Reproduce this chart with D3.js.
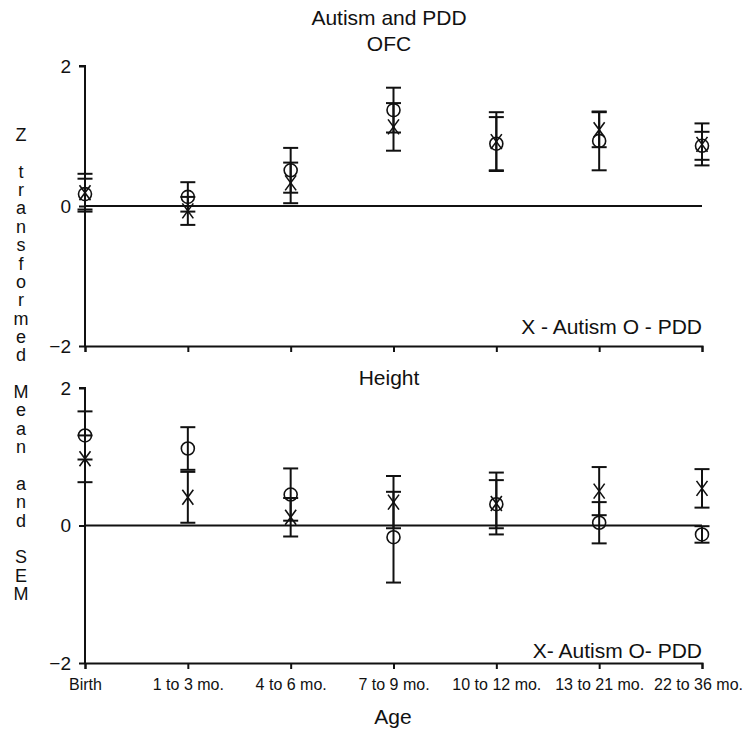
<!DOCTYPE html>
<html>
<head>
<meta charset="utf-8">
<script src="https://cdn.jsdelivr.net/npm/d3@7"></script>
<style>
  html, body { margin: 0; padding: 0; background: #fff; }
  svg { display: block; font-family: "Liberation Sans", Arial, sans-serif; }
</style>
</head>
<body>
<svg id="chart" width="744" height="733"></svg>
<script>
// ---- data ----
const categories = ["Birth", "1 to 3 mo.", "4 to 6 mo.", "7 to 9 mo.", "10 to 12 mo.", "13 to 21 mo.", "22 to 36 mo."];
const yTicks = [-2, 0, 2];

const ofcAutismMean = [0.19, -0.07, 0.33, 1.13, 0.92, 1.09, 0.88];
const ofcAutismSem  = [0.27, 0.20, 0.29, 0.34, 0.42, 0.25, 0.30];
const ofcPddMean    = [0.17, 0.13, 0.51, 1.37, 0.89, 0.93, 0.86];
const ofcPddSem     = [0.22, 0.21, 0.32, 0.32, 0.38, 0.42, 0.20];

const htAutismMean  = [0.97, 0.41, 0.12, 0.34, 0.32, 0.50, 0.54];
const htAutismSem   = [0.34, 0.37, 0.28, 0.38, 0.45, 0.35, 0.28];
const htPddMean     = [1.31, 1.12, 0.45, -0.17, 0.31, 0.04, -0.13];
const htPddSem      = [0.35, 0.31, 0.38, 0.66, 0.35, 0.30, 0.12];

const mainTitle = "Autism and PDD";
const panelTitles = ["OFC", "Height"];
const legendTexts = ["X - Autism O - PDD", "X- Autism O- PDD"];
const yLabel = "Z transformed Mean and SEM";
const xLabel = "Age";

// ---- layout ----
const W = 744;
const svg = d3.select("#chart");
const xLeft = 85, xRight = 702;
const x = d3.scalePoint().domain(categories).range([xLeft, xRight]).padding(0);

const panels = [
  { title: panelTitles[0], legend: legendTexts[0], top: 66, bottom: 346, titleGap: 15, legendGap: 12,
    autism: ofcAutismMean, autismSem: ofcAutismSem, pdd: ofcPddMean, pddSem: ofcPddSem, labels: false },
  { title: panelTitles[1], legend: legendTexts[1], top: 388, bottom: 663, titleGap: 3, legendGap: 5,
    autism: htAutismMean, autismSem: htAutismSem, pdd: htPddMean, pddSem: htPddSem, labels: true }
];

const stroke = "#111";

svg.append("text").attr("x", 389).attr("y", 25)
  .attr("text-anchor", "middle").attr("font-size", 21).attr("fill", stroke).text(mainTitle);

panels.forEach((p, pi) => {
  const y = d3.scaleLinear().domain([-2, 2]).range([p.bottom, p.top]);
  const g = svg.append("g");

  // y axis
  const yAxis = g.append("g").attr("transform", `translate(${xLeft},0)`)
    .call(d3.axisLeft(y).tickValues(yTicks).tickSize(6).tickPadding(8).tickFormat(d3.format("d")));
  yAxis.selectAll("path, line").attr("stroke", stroke).attr("stroke-width", 2);
  yAxis.select(".domain").attr("d", `M-6,${p.top}H0V${p.bottom}`);
  yAxis.selectAll("text").attr("font-size", 19).attr("fill", stroke)
    .attr("font-family", "'Liberation Sans', Arial, sans-serif");

  // x axis
  const xAxis = g.append("g").attr("transform", `translate(0,${p.bottom})`)
    .call(d3.axisBottom(x).tickSize(6).tickPadding(10).tickSizeOuter(6));
  xAxis.selectAll("path, line").attr("stroke", stroke).attr("stroke-width", 2);
  if (p.labels) {
    xAxis.selectAll("text").attr("font-size", 16).attr("fill", stroke)
      .attr("font-family", "'Liberation Sans', Arial, sans-serif")
      .each(function () {
        // keep labels inside the picture
        const b = this.getBBox();
        const tx = +this.parentNode.getAttribute("transform").match(/translate\(([-\d.]+)/)[1];
        const right = tx + b.x + b.width;
        if (right > W - 1) d3.select(this).attr("dx", (W - 1 - right));
      });
  } else {
    xAxis.selectAll("text").remove();
  }

  // zero line
  g.append("line").attr("x1", xLeft).attr("x2", xRight)
    .attr("y1", y(0)).attr("y2", y(0)).attr("stroke", stroke).attr("stroke-width", 2);

  // title
  g.append("text").attr("x", 389).attr("y", p.top - p.titleGap)
    .attr("text-anchor", "middle").attr("font-size", 21).attr("fill", stroke).text(p.title);

  // legend
  g.append("text").attr("x", xRight).attr("y", p.bottom - p.legendGap)
    .attr("text-anchor", "end").attr("font-size", 21).attr("fill", stroke).text(p.legend);

  const series = [
    { mean: p.autism, sem: p.autismSem, kind: "x" },
    { mean: p.pdd, sem: p.pddSem, kind: "o" }
  ];
  const capW = 7.5;
  series.forEach(s => {
    const data = categories.map((c, i) => ({ c, m: s.mean[i], e: s.sem[i] }));
    const eg = g.append("g");
    eg.selectAll("line.bar").data(data).enter().append("line")
      .attr("x1", d => x(d.c)).attr("x2", d => x(d.c))
      .attr("y1", d => y(d.m - d.e)).attr("y2", d => y(d.m + d.e))
      .attr("stroke", stroke).attr("stroke-width", 2);
    eg.selectAll("line.capT").data(data).enter().append("line")
      .attr("x1", d => x(d.c) - capW).attr("x2", d => x(d.c) + capW)
      .attr("y1", d => y(d.m + d.e)).attr("y2", d => y(d.m + d.e))
      .attr("stroke", stroke).attr("stroke-width", 2);
    eg.selectAll("line.capB").data(data).enter().append("line")
      .attr("x1", d => x(d.c) - capW).attr("x2", d => x(d.c) + capW)
      .attr("y1", d => y(d.m - d.e)).attr("y2", d => y(d.m - d.e))
      .attr("stroke", stroke).attr("stroke-width", 2);
    if (s.kind === "o") {
      eg.selectAll("circle").data(data).enter().append("circle")
        .attr("cx", d => x(d.c)).attr("cy", d => y(d.m)).attr("r", 6.5)
        .attr("fill", "none").attr("stroke", stroke).attr("stroke-width", 1.6);
    } else {
      const hw = 5.5, hh = 7.5;
      eg.selectAll("path.xm").data(data).enter().append("path")
        .attr("d", d => {
          const cx = x(d.c), cy = y(d.m);
          return `M${cx - hw},${cy - hh}L${cx + hw},${cy + hh}M${cx + hw},${cy - hh}L${cx - hw},${cy + hh}`;
        })
        .attr("fill", "none").attr("stroke", stroke).attr("stroke-width", 1.6);
    }
  });
});

// x axis title
svg.append("text").attr("x", 393).attr("y", 724).attr("text-anchor", "middle")
  .attr("font-size", 21).attr("fill", stroke).text(xLabel);

// stacked y label
const lines = [];
yLabel.split(" ").forEach((w, i) => {
  if (i > 0) lines.push("");
  w.split("").forEach(ch => lines.push(ch));
});
const yl = svg.append("text").attr("text-anchor", "middle").attr("font-size", 18).attr("fill", stroke);
lines.forEach((ch, i) => {
  if (ch === "") return;
  yl.append("tspan").attr("x", 21).attr("y", 141 + i * 18.36).text(ch);
});
</script>
</body>
</html>
